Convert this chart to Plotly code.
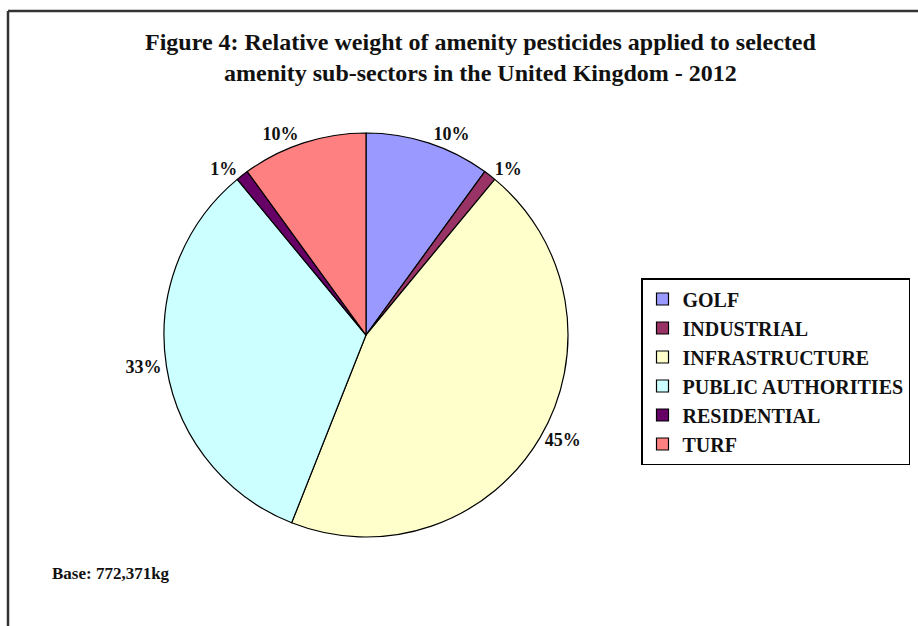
import plotly.graph_objects as go

# Amenity sub-sector shares (% of total active substance weight), UK 2012
sectors = ["GOLF", "INDUSTRIAL", "INFRASTRUCTURE", "PUBLIC AUTHORITIES", "RESIDENTIAL", "TURF"]
shares = [10, 1, 45, 33, 1, 10]
colors = ["#9999FF", "#993366", "#FFFFCC", "#CCFFFF", "#660066", "#FF8080"]

title_text = ("Figure 4: Relative weight of amenity pesticides applied to selected<br>"
              "amenity sub-sectors in the United Kingdom - 2012")
base_note = "Base: 772,371kg"

W, H = 918, 626
serif = "Liberation Serif, Times New Roman, serif"

fig = go.Figure()
fig.add_trace(go.Pie(
    labels=["<b>" + s + "</b>" for s in sectors],
    values=shares,
    sort=False,
    direction="clockwise",
    rotation=0,
    marker=dict(colors=colors, line=dict(color="#000000", width=1.2)),
    texttemplate="<b>%{value}%</b>",
    textposition="outside",
    outsidetextfont=dict(family=serif, size=18, color="#111111"),
    hoverinfo="label+percent",
    domain=dict(x=[164 / W, 568 / W], y=[(H - 537) / H, (H - 133) / H]),
))

fig.update_layout(
    width=W, height=H,
    margin=dict(l=0, r=0, t=0, b=0),
    paper_bgcolor="white",
    plot_bgcolor="white",
    font=dict(family=serif, color="#111111"),
    legend=dict(
        x=641 / W, xanchor="left",
        y=1 - 278 / H, yanchor="top",
        bordercolor="#000000", borderwidth=1.5,
        bgcolor="white",
        font=dict(family=serif, size=20, color="#111111"),
        itemclick=False,
    ),
    showlegend=True,
    shapes=[
        # chart frame: top and left edges
        dict(type="line", xref="paper", yref="paper",
             x0=8 / W, x1=1.0, y0=1 - 11 / H, y1=1 - 11 / H,
             line=dict(color="#333333", width=2.5)),
        dict(type="line", xref="paper", yref="paper",
             x0=8 / W, x1=8 / W, y0=0, y1=1 - 11 / H,
             line=dict(color="#333333", width=2.5)),
    ],
    annotations=[
        dict(text="<b>" + title_text + "</b>", xref="paper", yref="paper",
             x=480 / W, xanchor="center", y=1 - 57 / H, yanchor="middle",
             showarrow=False, align="center",
             font=dict(family=serif, size=24, color="#111111")),
        dict(text="<b>" + base_note + "</b>", xref="paper", yref="paper",
             x=50 / W, xanchor="left", y=1 - 573 / H, yanchor="middle",
             showarrow=False, font=dict(family=serif, size=17, color="#111111")),
    ],
)

fig.write_html("out.html")
